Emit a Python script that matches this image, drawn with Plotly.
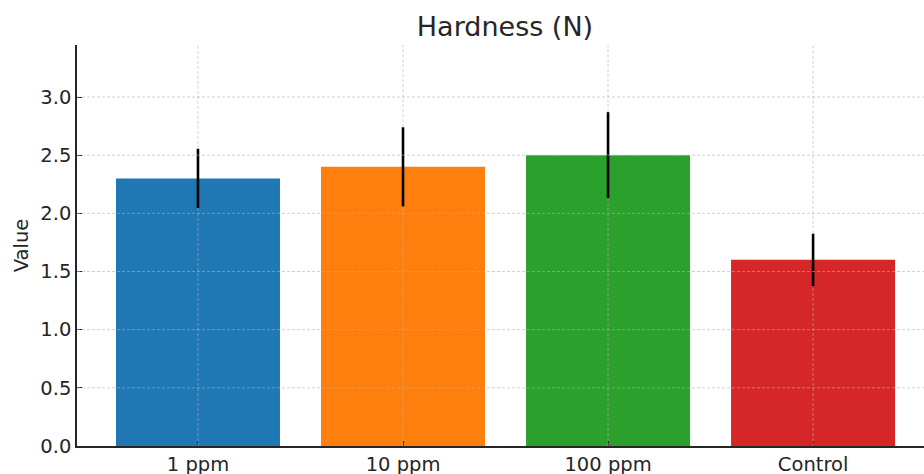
import plotly.graph_objects as go

categories = ["1 ppm", "10 ppm", "100 ppm", "Control"]
values = [2.3, 2.4, 2.5, 1.6]
errors = [0.255, 0.34, 0.37, 0.225]
colors = ["#1f77b4", "#ff7f0e", "#2ca02c", "#d62728"]
y_ticks = [0.0, 0.5, 1.0, 1.5, 2.0, 2.5, 3.0]

font_family = "DejaVu Sans"
text_color = "#262626"
grid_color = "rgba(176,176,176,0.6)"
grid_dash = "3px,2px"
y_max = 3.447

fig = go.Figure()
fig.add_trace(go.Bar(
    x=list(range(len(categories))),
    y=values,
    width=0.8,
    marker=dict(color=colors, line=dict(width=0)),
    error_y=dict(type="data", array=errors, visible=True, color="black",
                 thickness=2.6, width=0),
    showlegend=False,
))

# dashed grid drawn above the bars (but not across the error bars), like the reference
for i, (v, e) in enumerate(zip(values, errors)):
    for y0, y1 in [(0, v - e), (v + e, y_max)]:
        fig.add_shape(type="line", xref="x", yref="y", x0=i, x1=i, y0=y0, y1=y1,
                      line=dict(color=grid_color, width=1, dash=grid_dash), layer="above")
for t in y_ticks[1:]:
    fig.add_shape(type="line", xref="x domain", yref="y", x0=0, x1=1, y0=t, y1=t,
                  line=dict(color=grid_color, width=1, dash=grid_dash), layer="above")

fig.update_layout(
    width=924, height=474,
    margin=dict(l=77, r=0, t=45, b=28),
    paper_bgcolor="white",
    plot_bgcolor="white",
    font=dict(family=font_family, color=text_color, size=19.5),
    title=dict(text="Hardness (N)", x=0.5465, xanchor="center", y=0.943, yanchor="middle",
               font=dict(size=27, family=font_family, color=text_color)),
    bargap=0.2,
)

fig.update_xaxes(
    range=[-0.59, 3.541],
    tickmode="array",
    tickvals=list(range(len(categories))),
    ticktext=categories,
    ticks="inside", ticklen=5, tickcolor="#262626", tickwidth=1,
    showgrid=False,
    showline=True, linecolor="#262626", linewidth=1.5,
    zeroline=False, automargin=False,
    layer="above traces",
    tickfont=dict(size=19.5, family=font_family, color=text_color),
)

fig.update_yaxes(
    range=[0, y_max],
    tickmode="array",
    tickvals=y_ticks,
    ticktext=[f"{v:.1f}" for v in y_ticks],
    ticks="inside", ticklen=5, tickcolor="#262626", tickwidth=1,
    showgrid=False,
    showline=True, linecolor="#262626", linewidth=1.5,
    zeroline=False, automargin=False,
    layer="above traces",
    tickfont=dict(size=19.5, family=font_family, color=text_color),
    title=dict(text="Value", font=dict(size=19.5, family=font_family, color=text_color), standoff=7),
)

fig.write_html("out.html", config={"displayModeBar": False},
               post_script="document.body.style.margin='0';document.body.style.padding='0';document.body.style.overflow='hidden';")
